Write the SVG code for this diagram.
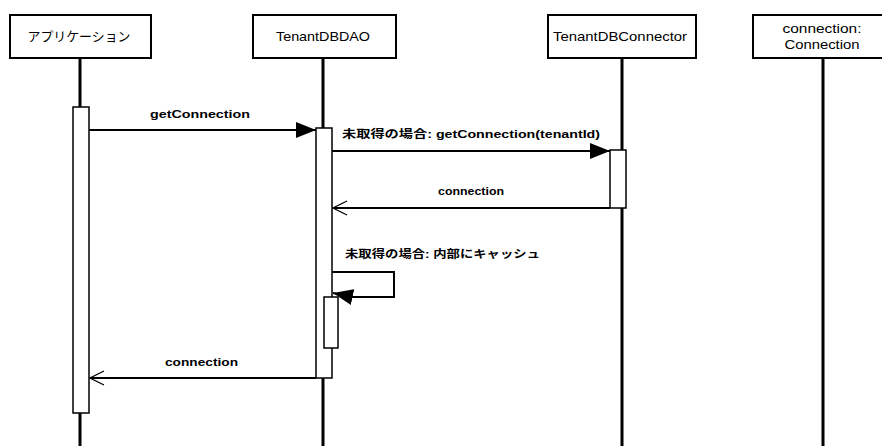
<svg xmlns="http://www.w3.org/2000/svg" width="882" height="446" viewBox="0 0 882 446">
<style>
.box{fill:#fff;stroke:#000;stroke-width:2}
.life{stroke:#000;stroke-width:3}
.act{fill:#fff;stroke:#000;stroke-width:1.5}
.msg{stroke:#000;stroke-width:2;fill:none}
.t{font-family:"Liberation Sans","Noto Sans CJK JP",sans-serif;font-size:13px;fill:#000;text-anchor:middle}
.l{font-family:"Liberation Sans","Noto Sans CJK JP",sans-serif;font-size:11px;font-weight:bold;fill:#000}
</style>
<defs>
<marker id="fill" viewBox="0 0 20 16" refX="20" refY="8" markerWidth="20" markerHeight="16" markerUnits="userSpaceOnUse" orient="auto"><path d="M0,0 L20,8 L0,16 Z" fill="#000"/></marker>
<marker id="open" viewBox="0 0 16 16" refX="1" refY="8" markerWidth="16" markerHeight="16" markerUnits="userSpaceOnUse" orient="auto"><path d="M15,1 L1,8 L15,15" fill="none" stroke="#000" stroke-width="1.2"/></marker>
</defs>
<rect width="882" height="446" fill="#fff"/>
<g id="app">
<line class="life" x1="80" y1="58" x2="80" y2="446"/>
<rect class="box" x="10" y="15" width="141" height="43"/>
<text class="t" x="79" y="41" textLength="103" lengthAdjust="spacingAndGlyphs">アプリケーション</text>
<rect class="act" x="73" y="107" width="16" height="306"/>
</g>
<g id="dao">
<line class="life" x1="323" y1="58" x2="323" y2="446"/>
<rect class="box" x="253" y="15" width="143" height="43"/>
<text class="t" x="323" y="41" textLength="94" lengthAdjust="spacingAndGlyphs">TenantDBDAO</text>
<rect class="act" x="316" y="128" width="16" height="250"/>
<rect class="act" x="324" y="297" width="14" height="51"/>
</g>
<g id="connector">
<line class="life" x1="622" y1="58" x2="622" y2="446"/>
<rect class="box" x="548" y="15" width="148" height="43"/>
<text class="t" x="620" y="41" textLength="134" lengthAdjust="spacingAndGlyphs">TenantDBConnector</text>
<rect class="act" x="610" y="150" width="16" height="58"/>
</g>
<g id="connection">
<line class="life" x1="823" y1="58" x2="823" y2="446"/>
<rect class="box" x="753" y="15" width="140" height="43"/>
<text class="t" x="822" y="33" textLength="79" lengthAdjust="spacingAndGlyphs">connection:</text>
<text class="t" x="822" y="49" textLength="75" lengthAdjust="spacingAndGlyphs">Connection</text>
</g>
<g id="connectors">
<line class="msg" x1="89" y1="130" x2="316" y2="130" marker-end="url(#fill)"/>
<text class="l" x="150" y="118" textLength="100" lengthAdjust="spacingAndGlyphs">getConnection</text>
<line class="msg" x1="332" y1="151" x2="610" y2="151" marker-end="url(#fill)"/>
<text class="l" x="342" y="138" textLength="258" lengthAdjust="spacingAndGlyphs">未取得の場合: getConnection(tenantId)</text>
<line class="msg" x1="333" y1="208" x2="610" y2="208" marker-start="url(#open)"/>
<text class="l" x="438" y="195" textLength="66" lengthAdjust="spacingAndGlyphs">connection</text>
<path class="msg" d="M332,272 H394 V297 H352 L333,293" marker-end="url(#fill)"/>
<text class="l" x="345" y="258" textLength="195" lengthAdjust="spacingAndGlyphs">未取得の場合: 内部にキャッシュ</text>
<line class="msg" x1="90" y1="378" x2="316" y2="378" marker-start="url(#open)"/>
<text class="l" x="165" y="366" textLength="73" lengthAdjust="spacingAndGlyphs">connection</text>
</g>
</svg>
